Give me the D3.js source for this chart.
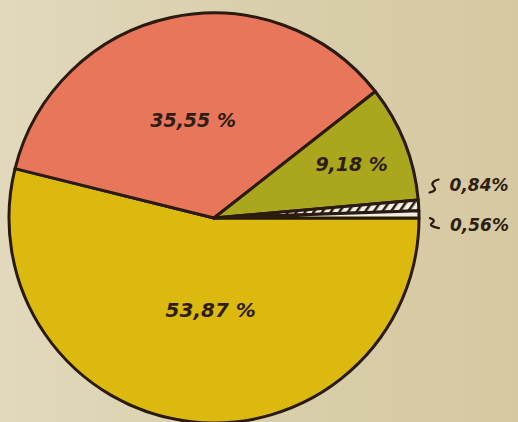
<!DOCTYPE html>
<html>
<head>
<meta charset="utf-8">
<script src="https://cdn.jsdelivr.net/npm/d3@7"></script>
<style>
  html, body { margin: 0; padding: 0; }
  body { width: 518px; height: 422px; overflow: hidden; }
  svg { display: block; }
</style>
</head>
<body>
<svg id="chart" width="518" height="422"></svg>
<script>
// slices, in drawing order (clockwise from 3 o'clock)
const labels = ["53,87 %", "35,55 %", "9,18 %", "0,84%", "0,56%"];
const values = [53.87, 35.55, 9.18, 0.84, 0.56];
const colors = ["#dcb90e", "#e8765a", "#aaa61e", "url(#hatch)", "#f1eedc"];
const labelRadius = [93, 100, 148, 0, 0];

const width = 518, height = 422;
const cx = 214, cy = 218, radius = 205;

const svg = d3.select('#chart');
const defs = svg.append('defs');

// paper background
let bg = defs.append('linearGradient').attr('id', 'paper');
bg.append('stop').attr('offset', '0%').attr('stop-color', '#e2d9bd');
bg.append('stop').attr('offset', '50%').attr('stop-color', '#d9cfac');
bg.append('stop').attr('offset', '100%').attr('stop-color', '#d6c9a2');
svg.append('rect').attr('width', width).attr('height', height).attr('fill', 'url(#paper)');

// hatching for the small slice
let pat = defs.append('pattern')
  .attr('id', 'hatch')
  .attr('patternUnits', 'userSpaceOnUse')
  .attr('width', 7).attr('height', 7)
  .attr('patternTransform', 'rotate(35)');
pat.append('rect').attr('width', 7).attr('height', 7).attr('fill', '#f4f1e4');
pat.append('rect').attr('width', 2.5).attr('height', 7).attr('fill', '#2a1c12');

let data = values.map((v, i) => ({ value: v, label: labels[i], color: colors[i], lr: labelRadius[i] }));

let pie = d3.pie().value(d => d.value).sort(null)
  .startAngle(Math.PI / 2).endAngle(Math.PI / 2 + 2 * Math.PI);
let arcData = pie(data);
let arcGenerator = d3.arc().innerRadius(0).outerRadius(radius);

let g = svg.append('g').attr('transform', `translate(${cx},${cy})`);

g.selectAll('path.slice')
  .data(arcData)
  .join('path')
  .attr('class', 'slice')
  .attr('d', arcGenerator)
  .attr('fill', d => d.data.color)
  .attr('stroke', '#2a1a10')
  .attr('stroke-width', 3)
  .attr('stroke-linejoin', 'round');

// labels inside the big slices
arcData.filter(d => d.data.lr > 0).forEach((d, i) => {
  let c = d3.arc().innerRadius(d.data.lr).outerRadius(d.data.lr).centroid(d);
  g.append('text')
    .attr('x', c[0] + (i === 0 ? 8 : 0)).attr('y', c[1])
    .attr('text-anchor', 'middle')
    .attr('dominant-baseline', 'central')
    .attr('font-family', 'DejaVu Sans, sans-serif')
    .attr('font-style', 'italic')
    .attr('font-weight', 'bold')
    .attr('font-size', i === 0 ? 20 : 19)
    .attr('fill', '#2e1e12')
    .text(d.data.label);
});

// small slices: labels outside with a little squiggle
let outside = arcData.filter(d => d.data.lr === 0);
let offsets = [-20, 11];
outside.forEach((d, i) => {
  let mid = (d.startAngle + d.endAngle) / 2;
  let ex = Math.sin(mid) * (radius + 14);
  let ey = -Math.cos(mid) * (radius + 14) + offsets[i];
  let squiggle = i === 0
    ? `M${ex - 3},${ey + 8} c5,-1 7,-3 4,-6 c-3,-3 0,-6 5,-7`
    : `M${ex - 3},${ey - 7} c4,1 5,3 2,5 c-3,2 1,4 7,5`;
  g.append('path')
    .attr('d', squiggle)
    .attr('fill', 'none')
    .attr('stroke', '#2a1a10')
    .attr('stroke-width', 2.2)
    .attr('stroke-linecap', 'round');
  g.append('text')
    .attr('x', ex + 17).attr('y', ey)
    .attr('dominant-baseline', 'central')
    .attr('font-family', 'DejaVu Sans, sans-serif')
    .attr('font-style', 'italic')
    .attr('font-weight', 'bold')
    .attr('font-size', 17)
    .attr('fill', '#2e1e12')
    .text(d.data.label);
});
</script>
</body>
</html>
